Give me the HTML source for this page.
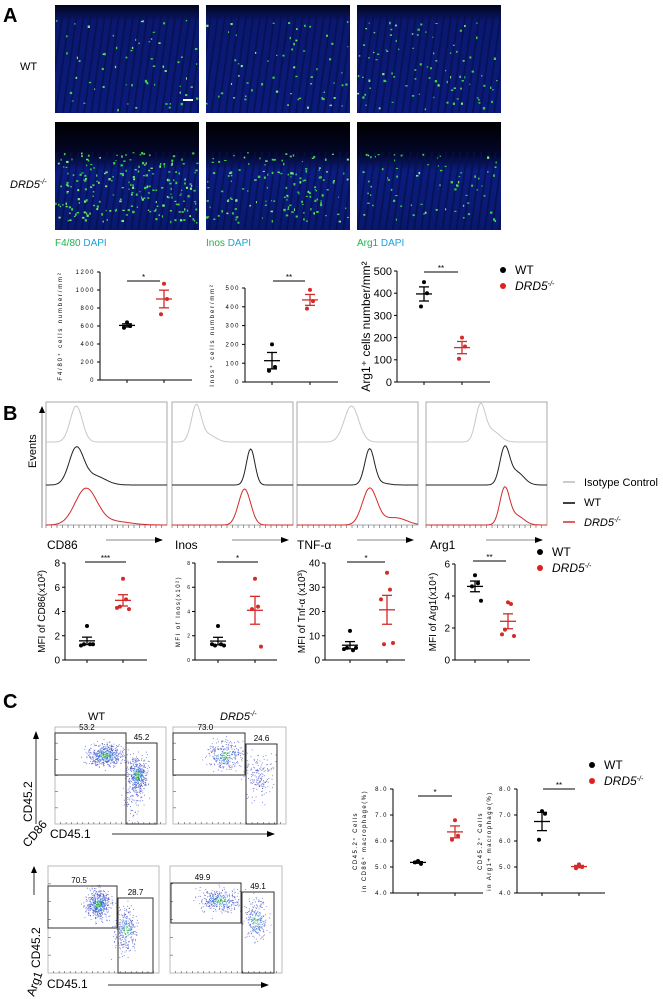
<!DOCTYPE html>
<html><head><meta charset="utf-8"><style>
html,body{margin:0;padding:0;background:#fff;}
svg{display:block;font-family:"Liberation Sans",Arial,sans-serif;}
</style></head><body>
<svg id="fig" width="663" height="999" viewBox="0 0 663 999" xmlns="http://www.w3.org/2000/svg">
<defs>
<linearGradient id="tis1" x1="0" y1="0" x2="0" y2="1"><stop offset="0" stop-color="#02051a"/><stop offset="0.15" stop-color="#0a1870"/><stop offset="1" stop-color="#0b1b7c"/></linearGradient>
<linearGradient id="tis2" x1="0" y1="0" x2="0" y2="1"><stop offset="0" stop-color="#000" /><stop offset="0.3" stop-color="#03072a"/><stop offset="0.45" stop-color="#0b1c80"/><stop offset="1" stop-color="#09186e"/></linearGradient>
<pattern id="stripe" width="7" height="30" patternUnits="userSpaceOnUse" patternTransform="rotate(8)"><rect width="7" height="30" fill="none"/><rect x="0" width="2" height="30" fill="#05104a" opacity="0.7"/></pattern>
</defs>
<g id="panelA">
<text x="3" y="22" font-size="20" font-weight="bold">A</text>
<text x="20" y="70" font-size="11">WT</text>
<text x="10" y="188" font-size="11" font-style="italic">DRD5<tspan dy="-4" font-size="7">-/-</tspan></text>
<text x="55" y="246" font-size="10" fill="#1db34a">F4/80 <tspan fill="#1aa3d9">DAPI</tspan></text>
<text x="206" y="246" font-size="10" fill="#1db34a">Inos <tspan fill="#1aa3d9">DAPI</tspan></text>
<text x="357" y="246" font-size="10" fill="#1db34a">Arg1 <tspan fill="#1aa3d9">DAPI</tspan></text>
</g>
<g id="micro"></g>
<g id="plots"></g>
<g id="panelB">
<text x="3" y="420" font-size="20" font-weight="bold">B</text>
<text transform="translate(36,468) rotate(-90)" font-size="11">Events</text>
<line x1="42" y1="528" x2="42" y2="412" stroke="#888" stroke-width="1"/>
<polygon points="42,406 39,413 45,413" fill="#000"/>
<text x="47" y="549" font-size="12">CD86</text>
<text x="175" y="549" font-size="12">Inos</text>
<text x="297" y="549" font-size="12">TNF-α</text>
<text x="430" y="549" font-size="12">Arg1</text>
<line x1="563" y1="482" x2="575" y2="482" stroke="#bbb" stroke-width="1.5"/>
<text x="584" y="486" font-size="11">Isotype Control</text>
<line x1="563" y1="503" x2="575" y2="503" stroke="#000" stroke-width="1.5"/>
<text x="584" y="506" font-size="11">WT</text>
<line x1="563" y1="522" x2="575" y2="522" stroke="#d42a2a" stroke-width="1.5"/>
<text x="584" y="526" font-size="11" font-style="italic">DRD5<tspan dy="-4" font-size="7">-/-</tspan></text>
</g>
<g id="hists"></g>
<g id="panelC">
<text x="3" y="708" font-size="20" font-weight="bold">C</text>
<text x="88" y="720" font-size="11">WT</text>
<text x="220" y="720" font-size="11" font-style="italic">DRD5<tspan dy="-4" font-size="7">-/-</tspan></text>
<text x="50" y="838" font-size="12">CD45.1</text>
<line x1="112" y1="834" x2="268" y2="834" stroke="#333"/><polygon points="275,834 267,831 267,837" fill="#000"/>
<text transform="translate(32,822) rotate(-90)" font-size="12">CD45.2</text>
<text transform="translate(28,848) rotate(-50)" font-size="12">CD86</text>
<line x1="36" y1="824" x2="36" y2="738" stroke="#333"/><polygon points="36,731 33,739 39,739" fill="#000"/>
<text x="47" y="988" font-size="12">CD45.1</text>
<line x1="108" y1="985" x2="262" y2="985" stroke="#333"/><polygon points="269,985 261,982 261,988" fill="#000"/>
<text transform="translate(40,968) rotate(-90)" font-size="12">CD45.2</text>
<text transform="translate(34,997) rotate(-70)" font-size="12">Arg1</text>
<line x1="34" y1="895" x2="34" y2="872" stroke="#333"/><polygon points="34,866 31,873 37,873" fill="#000"/>
</g>
<g id="flows"></g>
</svg>
<script>
// ---- data ----
var groups = ['WT', 'DRD5-/-'];
var f480WT = [640, 600, 580];
var f480KO = [1070, 900, 730];
var inosA_WT = [200, 80, 60];
var inosA_KO = [490, 430, 390];
var arg1A_WT = [450, 400, 340];
var arg1A_KO = [200, 160, 105];
var cd86WT = [2.8, 1.3, 1.3, 1.3, 1.2];
var cd86KO = [6.7, 5.0, 4.4, 4.2, 4.3];
var inosB_WT = [2.8, 1.3, 1.2, 1.2, 1.3];
var inosB_KO = [6.7, 4.4, 4.2, 1.1];
var tnfWT = [12, 4, 5, 5, 4.5];
var tnfKO = [36, 29, 6.5, 7, 25];
var arg1B_WT = [5.3, 4.8, 4.6, 3.7];
var arg1B_KO = [3.6, 3.5, 1.9, 1.5, 1.6];
var cCd86WT = [52.3, 51.2, 51.8];
var cCd86KO = [68, 62, 60.5];
var cArg1WT = [71.5, 70.5, 60.5];
var cArg1KO = [51, 50, 49.5];
var ticksA1 = [0, 200, 400, 600, 800, 1000, 1200];
var ticksA2 = [0, 100, 200, 300, 400, 500];
var ticksA3 = [0, 100, 200, 300, 400, 500];
var ticksB12 = [0, 2, 4, 6, 8];
var ticksB3 = [0, 10, 20, 30, 40];
var ticksB4 = [0, 2, 4, 6];
var ticksC = [40, 50, 60, 70, 80];
var tickLabelsC = ['4.0', '5.0', '6.0', '7.0', '8.0'];
var gatesTop = [['53.2', '45.2'], ['73.0', '24.6']];
var gatesBot = [['70.5', '28.7'], ['49.9', '49.1']];

var NS = 'http://www.w3.org/2000/svg';
function mk(parent, tag, attrs, name) {
  var el = document.createElementNS(NS, tag);
  for (var k in attrs) el.setAttribute(k, attrs[k]);
  
  
  parent.appendChild(el);
  return el;
}
var seed = 7;
function rnd() { seed = (seed * 16807) % 2147483647; return seed / 2147483647; }
function gauss() { return (rnd() + rnd() + rnd() + rnd() - 2) / 0.8; }

// ---- micrographs ----
var micro = document.getElementById('micro');
var cols = [55, 206, 357], rows = [5, 122];
var dens = [[60, 60, 90], [220, 140, 70]];
for (var r = 0; r < 2; r++) for (var c = 0; c < 3; c++) {
  var x = cols[c], y = rows[r], w = 144, h = 108;
  var g = mk(micro, 'g', {}, 'micrograph-' + (r ? 'drd5' : 'wt') + '-' + ['f480', 'inos', 'arg1'][c]);
  mk(g, 'rect', {x: x, y: y, width: w, height: h, fill: r ? 'url(#tis2)' : 'url(#tis1)'}, 'tissue');
  mk(g, 'rect', {x: x, y: y + (r ? 30 : 8), width: w, height: h - (r ? 30 : 8), fill: 'url(#stripe)'}, 'tissue-texture');
  for (var i = 0; i < dens[r][c]; i++) {
    var py = y + (r ? 30 + rnd() * 70 : 15 + rnd() * 90);
    mk(g, 'rect', {x: x + rnd() * (w - 2), y: py, width: 1 + rnd() * 1.5, height: 1 + rnd() * 1.5, fill: rnd() > 0.3 ? '#3bd24a' : '#7ef07a'}, 'green-cell');
  }
}
mk(micro, 'rect', {x: 183, y: 99, width: 10, height: 2, fill: '#fff'}, 'scale-bar');

// ---- scatter plots ----
var plots = document.getElementById('plots');
function scatter(o) {
  var g = mk(plots, 'g', {}, o.name);
  var sy = function (v) { return o.yb - (v - o.min) / (o.max - o.min) * (o.yb - o.yt); };
  mk(g, 'line', {x1: o.ax, y1: o.yt, x2: o.ax, y2: o.yb, stroke: '#000', 'stroke-width': 1}, 'y-axis');
  mk(g, 'line', {x1: o.ax, y1: o.yb, x2: o.ax2, y2: o.yb, stroke: '#000', 'stroke-width': 1}, 'x-axis');
  o.ticks.forEach(function (t, i) {
    mk(g, 'line', {x1: o.ax - 3, y1: sy(t), x2: o.ax, y2: sy(t), stroke: '#000'}, 'y-tick');
    var tx = mk(g, 'text', {x: o.ax - 5, y: sy(t) + o.fs * 0.35, 'font-size': o.fs, 'text-anchor': 'end', 'letter-spacing': o.ls || 0}, 'y-tick-label');
    tx.textContent = o.labels ? o.labels[i] : t;
  });
  o.xs.forEach(function (x) { mk(g, 'line', {x1: x, y1: o.yb, x2: x, y2: o.yb + 3, stroke: '#000'}, 'x-tick'); });
  var t = mk(g, 'text', {transform: 'translate(' + o.tx + ',' + ((o.yt + o.yb) / 2) + ') rotate(-90)', 'font-size': o.tfs, 'text-anchor': 'middle', 'letter-spacing': o.tls || 0}, 'y-axis-title');
  t.textContent = o.title;
  if (o.title2) { var t2 = mk(g, 'text', {transform: 'translate(' + (o.tx + 9) + ',' + ((o.yt + o.yb) / 2) + ') rotate(-90)', 'font-size': o.tfs, 'text-anchor': 'middle', 'letter-spacing': o.tls || 0}, 'y-axis-title-line2'); t2.textContent = o.title2; }
  [o.wt, o.ko].forEach(function (arr, gi) {
    var col = gi ? '#d42a2a' : '#000', cx = o.xs[gi];
    var m = arr.reduce(function (a, b) { return a + b; }, 0) / arr.length;
    var sd = Math.sqrt(arr.reduce(function (a, b) { return a + (b - m) * (b - m); }, 0) / (arr.length - 1));
    var se = sd / Math.sqrt(arr.length);
    arr.forEach(function (v, i) {
      var off = (i % 2 ? 1 : -1) * Math.ceil(i / 2) * 3;
      mk(g, 'circle', {cx: cx + off, cy: sy(v), r: 2, fill: col}, 'point-' + (gi ? 'drd5' : 'wt'));
    });
    mk(g, 'line', {x1: cx, y1: sy(m + se), x2: cx, y2: sy(m - se), stroke: col, 'stroke-width': 1.3}, 'sem-bar');
    mk(g, 'line', {x1: cx - 8, y1: sy(m), x2: cx + 8, y2: sy(m), stroke: col, 'stroke-width': 1.3}, 'mean-line');
    mk(g, 'line', {x1: cx - 5, y1: sy(m + se), x2: cx + 5, y2: sy(m + se), stroke: col, 'stroke-width': 1.3}, 'sem-cap');
    mk(g, 'line', {x1: cx - 5, y1: sy(m - se), x2: cx + 5, y2: sy(m - se), stroke: col, 'stroke-width': 1.3}, 'sem-cap');
  });
  mk(g, 'line', {x1: o.sig[0], y1: o.sig[2], x2: o.sig[1], y2: o.sig[2], stroke: '#000', 'stroke-width': 1}, 'significance-bar');
  var s = mk(g, 'text', {x: (o.sig[0] + o.sig[1]) / 2, y: o.sig[2] - 1, 'font-size': 8, 'text-anchor': 'middle'}, 'significance-stars');
  s.textContent = o.star;
}
scatter({name: 'plot-f480', ax: 100, ax2: 192, yt: 272, yb: 380, min: 0, max: 1200, ticks: ticksA1, fs: 6, ls: 1.5, xs: [127, 164], wt: f480WT, ko: f480KO, tx: 62, tfs: 6, tls: 1.8, title: 'F4/80⁺ cells number/mm²', sig: [127, 160, 281], star: '*'});
scatter({name: 'plot-inos-a', ax: 245, ax2: 338, yt: 288, yb: 382, min: 0, max: 500, ticks: ticksA2, fs: 6, ls: 1.5, xs: [272, 310], wt: inosA_WT, ko: inosA_KO, tx: 214, tfs: 6, tls: 1.8, title: 'Inos⁺ cells number/mm²', sig: [273, 305, 281], star: '**'});
scatter({name: 'plot-arg1-a', ax: 397, ax2: 490, yt: 271, yb: 382, min: 0, max: 500, ticks: ticksA3, fs: 11, xs: [424, 462], wt: arg1A_WT, ko: arg1A_KO, tx: 370, tfs: 12, title: 'Arg1⁺ cells number/mm²', sig: [424, 458, 272], star: '**'});
scatter({name: 'plot-cd86-b', ax: 65, ax2: 147, yt: 563, yb: 660, min: 0, max: 8, ticks: ticksB12, fs: 10, xs: [87, 123], wt: cd86WT, ko: cd86KO, tx: 45, tfs: 10, title: 'MFI of CD86(x10²)', sig: [85, 126, 562], star: '***'});
scatter({name: 'plot-inos-b', ax: 195, ax2: 277, yt: 563, yb: 660, min: 0, max: 8, ticks: ticksB12, fs: 5, xs: [218, 255], wt: inosB_WT, ko: inosB_KO, tx: 180, tfs: 6, tls: 1.5, title: 'MFI of Inos(x10²)', sig: [217, 258, 562], star: '*'});
scatter({name: 'plot-tnf-b', ax: 325, ax2: 405, yt: 563, yb: 660, min: 0, max: 40, ticks: ticksB3, fs: 10, xs: [350, 387], wt: tnfWT, ko: tnfKO, tx: 305, tfs: 10, title: 'MFI of Tnf-α (x10³)', sig: [347, 385, 562], star: '*'});
scatter({name: 'plot-arg1-b', ax: 455, ax2: 530, yt: 564, yb: 660, min: 0, max: 6, ticks: ticksB4, fs: 10, xs: [475, 508], wt: arg1B_WT, ko: arg1B_KO, tx: 436, tfs: 10, title: 'MFI of Arg1(x10⁴)', sig: [473, 506, 561], star: '**'});
scatter({name: 'plot-cd86-c', ax: 393, ax2: 483, yt: 789, yb: 893, min: 40, max: 80, ticks: ticksC, labels: tickLabelsC, fs: 6, ls: 1.5, xs: [418, 455], wt: cCd86WT, ko: cCd86KO, tx: 357, tfs: 6, tls: 1.5, title: 'CD45.2⁺ Cells', title2: 'in CD86⁺ macrophage(%)', sig: [418, 452, 796], star: '*'});
scatter({name: 'plot-arg1-c', ax: 517, ax2: 605, yt: 789, yb: 893, min: 40, max: 80, ticks: ticksC, labels: tickLabelsC, fs: 6, ls: 1.5, xs: [542, 579], wt: cArg1WT, ko: cArg1KO, tx: 482, tfs: 6, tls: 1.5, title: 'CD45.2⁺ Cells', title2: 'in Arg1+ macrophage(%)', sig: [543, 575, 789], star: '**'});

// legends
function legend(x, y, fs, name) {
  var g = mk(plots, 'g', {}, name);
  mk(g, 'circle', {cx: x, cy: y, r: 3, fill: '#000'}, 'legend-dot-wt');
  var a = mk(g, 'text', {x: x + 12, y: y + 4, 'font-size': fs}, 'legend-label-wt'); a.textContent = groups[0];
  mk(g, 'circle', {cx: x, cy: y + 16, r: 3, fill: '#e02020'}, 'legend-dot-drd5');
  var b = mk(g, 'text', {x: x + 12, y: y + 20, 'font-size': fs, 'font-style': 'italic'}, 'legend-label-drd5');
  b.innerHTML = 'DRD5<tspan dy="-4" font-size="7">-/-</tspan>';
}
legend(503, 270, 12, 'legend-a');
legend(540, 552, 12, 'legend-b');
legend(592, 765, 12, 'legend-c');

// ---- histograms ----
var hists = document.getElementById('hists');
var boxes = [46, 172, 297, 426], bw = 121;
var peaks = [[0.25, 0.25, 0.33], [0.2, 0.65, 0.6], [0.45, 0.6, 0.6], [0.45, 0.65, 0.65]];
var widths = [[0.05, 0.06, 0.09], [0.04, 0.035, 0.05], [0.06, 0.04, 0.06], [0.04, 0.04, 0.04]];
var tails = [[0, 0.25, 0.1], [0.2, 0, 0], [0, 0.05, 0.12], [0.3, 0.35, 0.25]];
var cols3 = ['#c8c8c8', '#222', '#d42a2a'];
boxes.forEach(function (bx, bi) {
  var g = mk(hists, 'g', {}, 'histogram-' + ['cd86', 'inos', 'tnf', 'arg1'][bi]);
  mk(g, 'rect', {x: bx, y: 402, width: bw, height: 123, fill: 'none', stroke: '#aaa', 'stroke-width': 1}, 'histogram-frame');
  for (var k = 0; k < 3; k++) {
    var base = [442, 485, 525][k], hgt = 36, d = '';
    for (var s = 0; s <= 100; s++) {
      var u = s / 100, p = peaks[bi][k], wd = widths[bi][k];
      var v = Math.exp(-Math.pow((u - p) / wd, 2) / 2) + tails[bi][k] * Math.exp(-Math.pow((u - p - 2.5 * wd) / (wd * 1.5), 2) / 2);
      if (bi == 2 && k == 2) v += 0.12 * Math.exp(-Math.pow((u - 0.85) / 0.08, 2) / 2);
      d += (s ? 'L' : 'M') + (bx + u * bw).toFixed(1) + ',' + (base - Math.min(v, 1.1) * hgt).toFixed(1);
    }
    mk(g, 'path', {d: d, fill: 'none', stroke: cols3[k], 'stroke-width': 1}, ['isotype-curve', 'wt-curve', 'drd5-curve'][k]);
  }
  for (var t = 0; t < 22; t++) mk(g, 'line', {x1: bx + t * bw / 22, y1: 525, x2: bx + t * bw / 22, y2: 528, stroke: '#555', 'stroke-width': 0.6}, 'x-minor-tick');
  mk(g, 'line', {x1: bx + 60, y1: 540, x2: bx + 110, y2: 540, stroke: '#888'}, 'x-arrow');
  mk(g, 'polygon', {points: (bx + 117) + ',540 ' + (bx + 109) + ',537 ' + (bx + 109) + ',543', fill: '#000'}, 'x-arrowhead');
});

// ---- flow cytometry ----
var flows = document.getElementById('flows');
function flow(x, y, w, h, gl, gr, labels, clusters, name) {
  var g = mk(flows, 'g', {}, name);
  mk(g, 'rect', {x: x, y: y, width: w, height: h, fill: '#fff', stroke: '#bbb'}, 'plot-frame');
  for (var t = 1; t < 6; t++) mk(g, 'line', {x1: x, y1: y + t * h / 6, x2: x + 3, y2: y + t * h / 6, stroke: '#555', 'stroke-width': 0.6}, 'y-tick');
  for (var t2 = 1; t2 < 20; t2++) mk(g, 'line', {x1: x + t2 * w / 20, y1: y + h, x2: x + t2 * w / 20, y2: y + h - 2, stroke: '#555', 'stroke-width': 0.6}, 'x-tick');
  clusters.forEach(function (cl) {
    for (var i = 0; i < cl[4]; i++) {
      var px = cl[0] + gauss() * cl[2], py = cl[1] + gauss() * cl[3];
      if (px < x + 1 || px > x + w - 1 || py < y + 1 || py > y + h - 1) continue;
      var dd = Math.hypot((px - cl[0]) / cl[2], (py - cl[1]) / cl[3]);
      var col = dd < 0.35 && cl[5] ? '#2aa84a' : dd < 0.8 && cl[5] ? '#2a6ad8' : '#3a46c8';
      mk(g, 'rect', {x: px, y: py, width: 0.9, height: 0.9, fill: col, opacity: 0.75}, 'event-dot');
    }
  });
  mk(g, 'rect', {x: gl[0], y: gl[1], width: gl[2], height: gl[3], fill: 'none', stroke: '#333', 'stroke-width': 1}, 'gate-left');
  mk(g, 'rect', {x: gr[0], y: gr[1], width: gr[2], height: gr[3], fill: 'none', stroke: '#333', 'stroke-width': 1}, 'gate-right');
  var a = mk(g, 'text', {x: gl[0] + gl[2] * 0.45, y: gl[1] - 3, 'font-size': 8, 'text-anchor': 'middle'}, 'gate-percent-left'); a.textContent = labels[0];
  var b = mk(g, 'text', {x: gr[0] + gr[2] / 2, y: gr[1] - 3, 'font-size': 8, 'text-anchor': 'middle'}, 'gate-percent-right'); b.textContent = labels[1];
}
flow(55, 727, 111, 97, [55, 733, 71, 42], [126, 743, 31, 81], gatesTop[0], [[105, 755, 12, 8, 500, 1], [137, 775, 7, 12, 450, 1], [135, 800, 8, 15, 80, 0]], 'flow-top-wt');
flow(173, 727, 113, 97, [173, 733, 72, 42], [246, 744, 31, 80], gatesTop[1], [[225, 755, 12, 10, 300, 1], [258, 775, 10, 15, 180, 0]], 'flow-top-drd5');
flow(48, 866, 111, 107, [48, 886, 69, 42], [118, 898, 35, 75], gatesBot[0], [[98, 904, 8, 10, 500, 1], [126, 930, 8, 15, 300, 1]], 'flow-bottom-wt');
flow(170, 866, 112, 107, [171, 883, 70, 40], [242, 892, 32, 81], gatesBot[1], [[220, 900, 14, 8, 350, 1], [256, 920, 8, 14, 250, 1]], 'flow-bottom-drd5');
</script>
</body></html>
